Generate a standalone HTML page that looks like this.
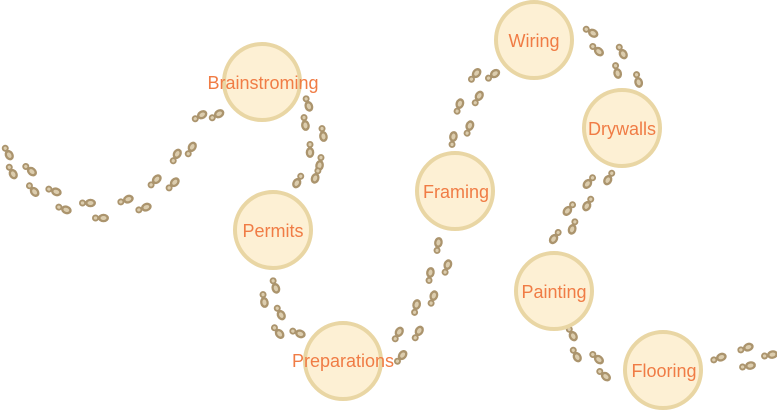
<!DOCTYPE html>
<html><head><meta charset="utf-8"><style>
body{margin:0;background:#fff;width:777px;height:411px;overflow:hidden}
svg text{font-family:"Liberation Sans",sans-serif;font-size:18px;fill:#f07c45;text-anchor:middle;dominant-baseline:central}
</style></head><body>
<svg width="777" height="411" viewBox="0 0 777 411">
<defs>
<g id="f">
<ellipse cx="0" cy="-2.5" rx="4.3" ry="5.5" fill="#ab946d"/>
<ellipse cx="0" cy="-2.5" rx="2" ry="3" fill="#dccdae"/>
<ellipse cx="0" cy="5.5" rx="3.5" ry="3.5" fill="#ab946d"/>
<ellipse cx="0" cy="5.5" rx="1.6" ry="1.7" fill="#dccdae"/>
</g>
</defs>
<g>
<use href="#f" transform="translate(8,153) rotate(150)"/>
<use href="#f" transform="translate(12,172) rotate(150)"/>
<use href="#f" transform="translate(30,170) rotate(130)"/>
<use href="#f" transform="translate(33,190) rotate(140)"/>
<use href="#f" transform="translate(54,191) rotate(110)"/>
<use href="#f" transform="translate(64,209) rotate(110)"/>
<use href="#f" transform="translate(88,203) rotate(90)"/>
<use href="#f" transform="translate(101,218) rotate(90)"/>
<use href="#f" transform="translate(126,200) rotate(70)"/>
<use href="#f" transform="translate(144,208) rotate(70)"/>
<use href="#f" transform="translate(155,181) rotate(45)"/>
<use href="#f" transform="translate(173,184) rotate(45)"/>
<use href="#f" transform="translate(176,156) rotate(30)"/>
<use href="#f" transform="translate(191,149) rotate(30)"/>
<use href="#f" transform="translate(200,116) rotate(60)"/>
<use href="#f" transform="translate(217,115) rotate(60)"/>
<use href="#f" transform="translate(308,104) rotate(160)"/>
<use href="#f" transform="translate(305,123) rotate(170)"/>
<use href="#f" transform="translate(323,134) rotate(170)"/>
<use href="#f" transform="translate(310,150) rotate(180)"/>
<use href="#f" transform="translate(320,163) rotate(190)"/>
<use href="#f" transform="translate(298,181) rotate(210)"/>
<use href="#f" transform="translate(316,176) rotate(200)"/>
<use href="#f" transform="translate(275,286) rotate(160)"/>
<use href="#f" transform="translate(264,300) rotate(170)"/>
<use href="#f" transform="translate(280,313) rotate(150)"/>
<use href="#f" transform="translate(278,332) rotate(140)"/>
<use href="#f" transform="translate(298,333) rotate(110)"/>
<use href="#f" transform="translate(401,357) rotate(40)"/>
<use href="#f" transform="translate(398,334) rotate(30)"/>
<use href="#f" transform="translate(418,333) rotate(30)"/>
<use href="#f" transform="translate(416,307) rotate(15)"/>
<use href="#f" transform="translate(433,298) rotate(20)"/>
<use href="#f" transform="translate(430,275) rotate(10)"/>
<use href="#f" transform="translate(447,267) rotate(20)"/>
<use href="#f" transform="translate(438,245) rotate(10)"/>
<use href="#f" transform="translate(453,139) rotate(10)"/>
<use href="#f" transform="translate(469,128) rotate(20)"/>
<use href="#f" transform="translate(459,106) rotate(20)"/>
<use href="#f" transform="translate(478,98) rotate(30)"/>
<use href="#f" transform="translate(475,75) rotate(40)"/>
<use href="#f" transform="translate(493,75) rotate(55)"/>
<use href="#f" transform="translate(591,32) rotate(120)"/>
<use href="#f" transform="translate(597,50) rotate(130)"/>
<use href="#f" transform="translate(622,52) rotate(150)"/>
<use href="#f" transform="translate(617,71) rotate(165)"/>
<use href="#f" transform="translate(638,80) rotate(165)"/>
<use href="#f" transform="translate(609,178) rotate(210)"/>
<use href="#f" transform="translate(589,182) rotate(220)"/>
<use href="#f" transform="translate(588,204) rotate(210)"/>
<use href="#f" transform="translate(569,209) rotate(220)"/>
<use href="#f" transform="translate(573,227) rotate(200)"/>
<use href="#f" transform="translate(555,237) rotate(215)"/>
<use href="#f" transform="translate(572,334) rotate(150)"/>
<use href="#f" transform="translate(576,355) rotate(150)"/>
<use href="#f" transform="translate(597,358) rotate(130)"/>
<use href="#f" transform="translate(604,375) rotate(130)"/>
<use href="#f" transform="translate(719,358) rotate(70)"/>
<use href="#f" transform="translate(746,348) rotate(70)"/>
<use href="#f" transform="translate(748,366) rotate(80)"/>
<use href="#f" transform="translate(770,355) rotate(80)"/>
</g>
<g fill="#fdf0d4" stroke="#e9d6a4" stroke-width="4">
<circle cx="262" cy="82" r="38"/>
<circle cx="273" cy="230" r="38"/>
<circle cx="343" cy="361" r="38"/>
<circle cx="455" cy="191" r="38"/>
<circle cx="534" cy="40" r="38"/>
<circle cx="622" cy="128" r="38"/>
<circle cx="554" cy="291" r="38"/>
<circle cx="663" cy="370" r="38"/>
</g>
<text x="263" y="83">Brainstroming</text>
<text x="273" y="231">Permits</text>
<text x="343" y="361">Preparations</text>
<text x="456" y="192">Framing</text>
<text x="534" y="41">Wiring</text>
<text x="622" y="129">Drywalls</text>
<text x="554" y="292">Painting</text>
<text x="664" y="371">Flooring</text>
</svg>
</body></html>
